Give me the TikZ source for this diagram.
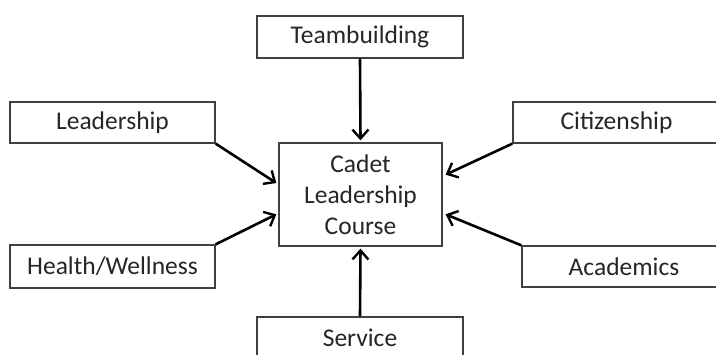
\documentclass[tikz,border=0pt]{standalone}
\usepackage{fontspec}
\setmainfont{Carlito}
\usetikzlibrary{arrows.meta,calc}
\tikzset{
  box/.style={draw=black!75, line width=1.3pt, rectangle, inner sep=0pt, align=center,
    font=\fontsize{25.5}{31}\selectfont, text=black!85},
  conn/.style={line width=2.6pt, draw=black, -{Straight Barb[length=9pt,width=16pt,line width=2.4pt]}}
}
\begin{document}
\begin{tikzpicture}[x=1pt,y=-1pt]
\useasboundingbox (0,0) rectangle (716,354);
\clip (0,0) rectangle (716,354);
\fill[white] (0,0) rectangle (716,354);
\node[box, minimum width=206pt, minimum height=42pt] (team) at (360,37) {Teambuilding};
\node[box, minimum width=163pt, minimum height=103pt] (cl) at (360.5,194.5) {Cadet\\Leadership\\Course};
\node[box, minimum width=205pt, minimum height=41pt] (lead) at (112.5,122.5) {Leadership};
\node[box, minimum width=205pt, minimum height=43pt] (hw) at (112.5,266.5) {Health/Wellness};
\node[box, minimum width=207pt, minimum height=41pt] (cit) at (616.5,122.5) {Citizenship};
\node[box, minimum width=204pt, minimum height=41pt] (acad) at (624,266.5) {Academics};
\node[box, minimum width=206pt, minimum height=42pt] (serv) at (360,338) {Service};
\coordinate (lt1) at ($(cl.north west)!0.39!(cl.south west)+(-2,0)$);
\coordinate (lt2) at ($(cl.north west)!0.69!(cl.south west)+(-2,0)$);
\coordinate (rt1) at ($(cl.north east)!0.31!(cl.south east)+(3,0)$);
\coordinate (rt2) at ($(cl.north east)!0.69!(cl.south east)+(3,0)$);
\draw[conn] (team.south) -- ($(cl.north)+(0,-2)$);
\draw[conn] (serv.north) -- ($(cl.south)+(0,2)$);
\draw[conn] (lead.south east) -- (lt1);
\draw[conn] (hw.north east) -- (lt2);
\draw[conn] (cit.south west) -- (rt1);
\draw[conn] (acad.north west) -- (rt2);
\end{tikzpicture}
\end{document}
